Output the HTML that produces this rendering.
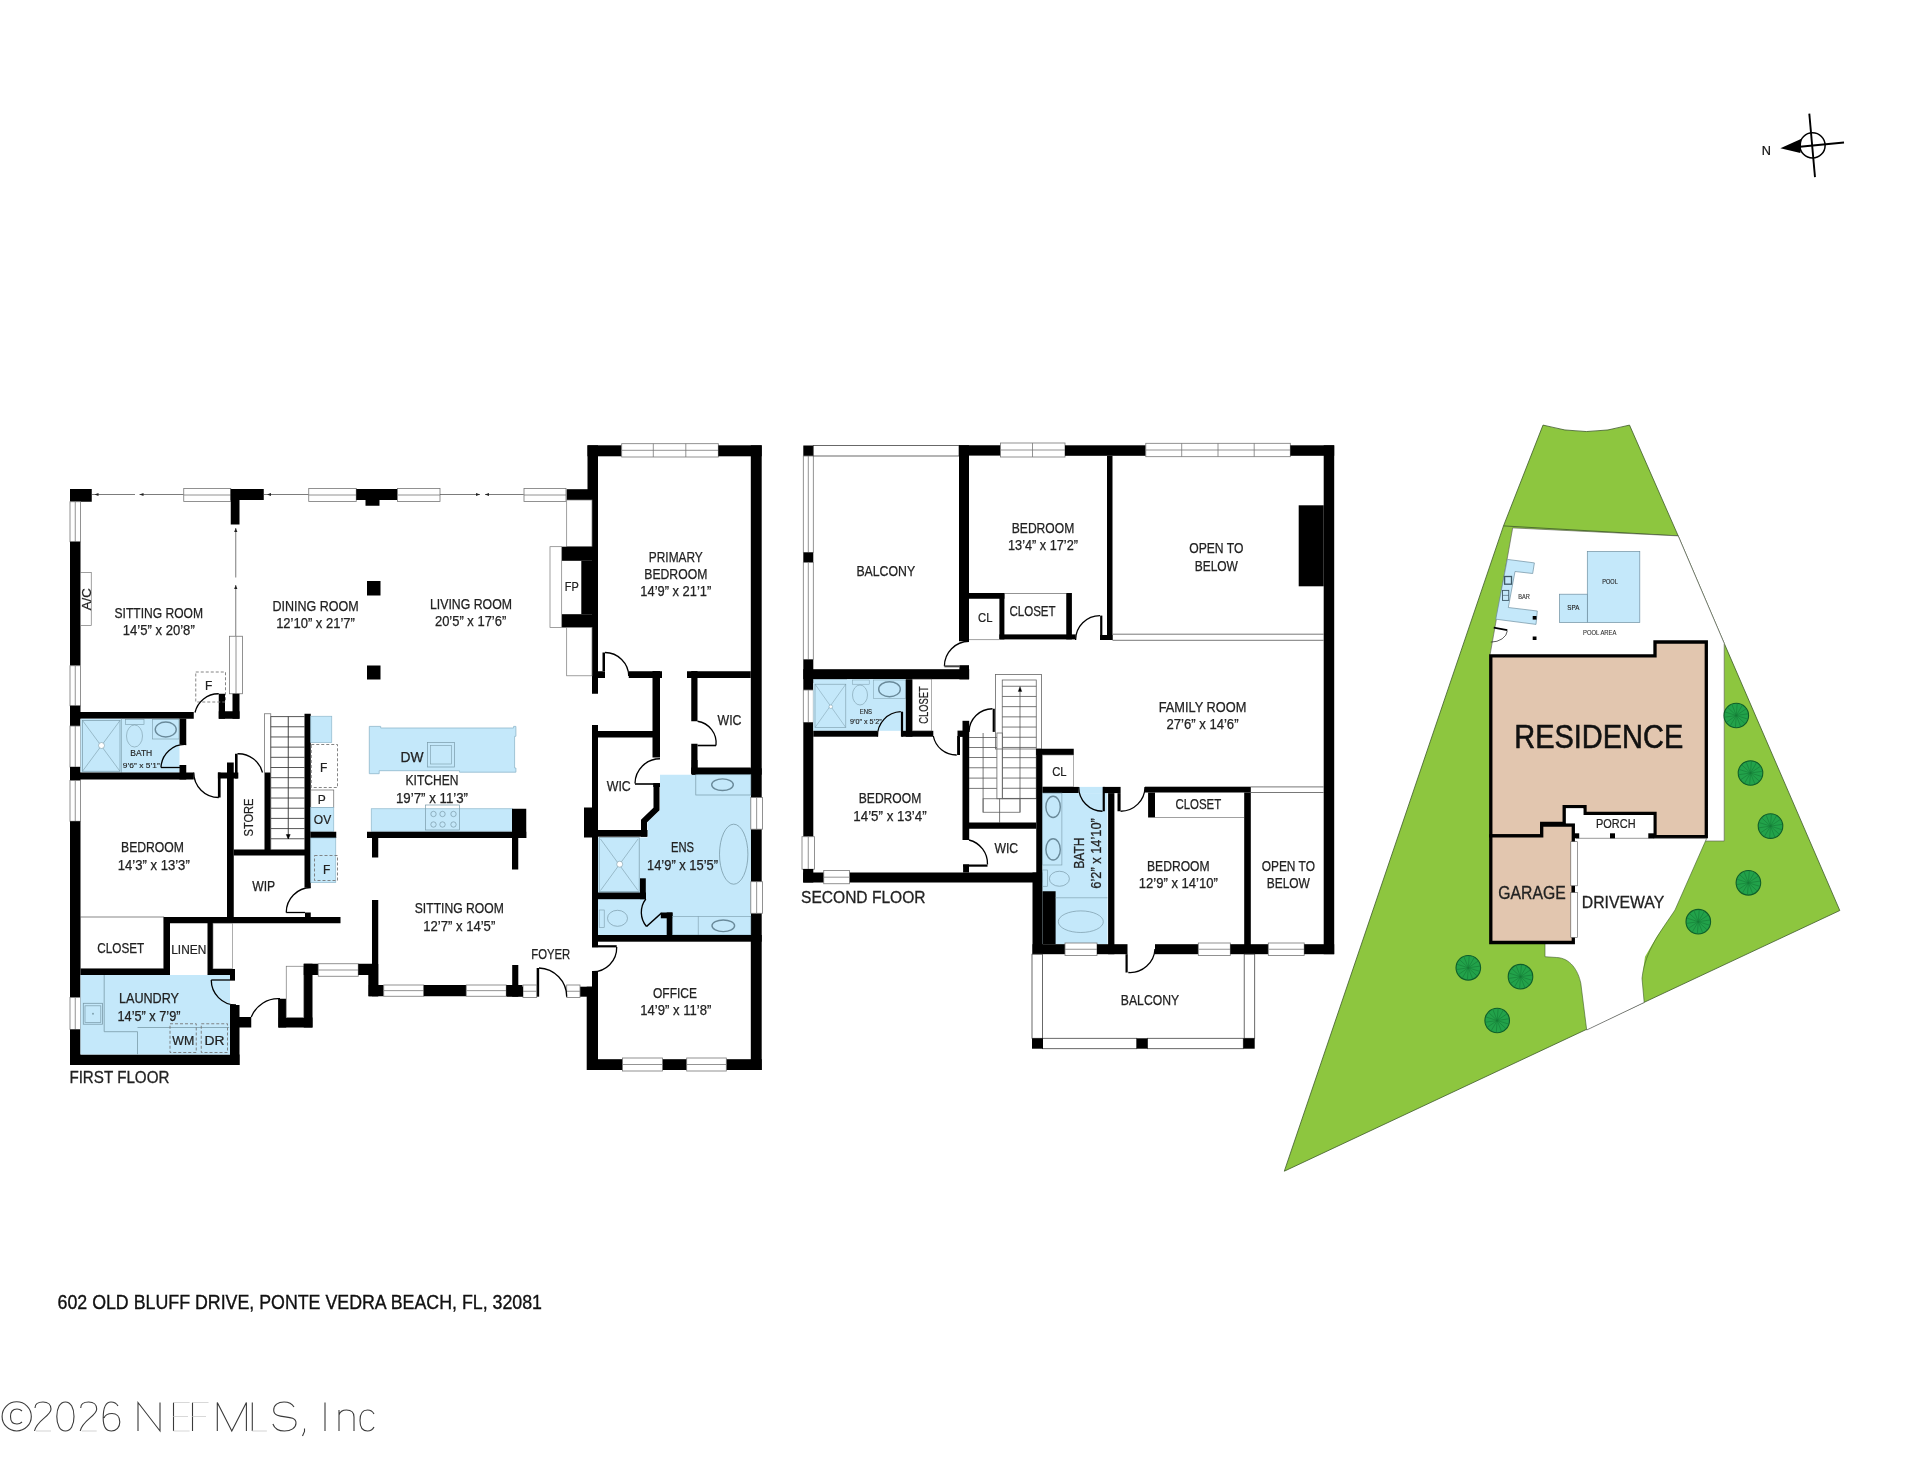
<!DOCTYPE html><html><head><meta charset="utf-8"><style>
html,body{margin:0;padding:0;background:#fff;width:1920px;height:1484px;overflow:hidden}
svg{display:block;font-family:"Liberation Sans",sans-serif;will-change:transform}
</style></head><body>
<svg width="1920" height="1484" viewBox="0 0 1920 1484">
<rect x="70" y="489" width="21.75" height="12.75" fill="#000"/>
<rect x="70" y="501.75" width="10.5" height="40.0" fill="#fff" stroke="#777" stroke-width="0.8"/>
<line x1="75.25" y1="501.75" x2="75.25" y2="541.75" stroke="#777" stroke-width="0.8"/>
<rect x="70" y="541.75" width="10.5" height="124.0" fill="#000"/>
<rect x="70" y="665.75" width="10.5" height="40.0" fill="#fff" stroke="#777" stroke-width="0.8"/>
<line x1="75.25" y1="665.75" x2="75.25" y2="705.75" stroke="#777" stroke-width="0.8"/>
<rect x="70" y="705.75" width="10.5" height="20.25" fill="#000"/>
<rect x="70" y="726" width="10.5" height="41" fill="#fff" stroke="#777" stroke-width="0.8"/>
<line x1="75.25" y1="726" x2="75.25" y2="767" stroke="#777" stroke-width="0.8"/>
<rect x="70" y="767" width="10.5" height="13.5" fill="#000"/>
<rect x="70" y="780.5" width="10.5" height="40.75" fill="#fff" stroke="#777" stroke-width="0.8"/>
<line x1="75.25" y1="780.5" x2="75.25" y2="821.25" stroke="#777" stroke-width="0.8"/>
<rect x="70" y="821.25" width="10.5" height="176.25" fill="#000"/>
<rect x="70" y="997.5" width="10.5" height="32.0" fill="#fff" stroke="#777" stroke-width="0.8"/>
<line x1="75.25" y1="997.5" x2="75.25" y2="1029.5" stroke="#777" stroke-width="0.8"/>
<rect x="70" y="1029.5" width="10.5" height="35.5" fill="#000"/>
<rect x="70" y="1054.5" width="169.5" height="10.5" fill="#000"/>
<line x1="91.75" y1="494.5" x2="135" y2="494.5" stroke="#444" stroke-width="0.7"/>
<line x1="139.5" y1="494.5" x2="183.75" y2="494.5" stroke="#444" stroke-width="0.7"/>
<rect x="183.75" y="488.5" width="47.0" height="13.0" fill="#fff" stroke="#777" stroke-width="0.8"/>
<line x1="183.75" y1="495.0" x2="230.75" y2="495.0" stroke="#777" stroke-width="0.8"/>
<rect x="230.75" y="489" width="33.0" height="11" fill="#000"/>
<rect x="230.75" y="489" width="8.75" height="35.5" fill="#000"/>
<line x1="263.75" y1="494.5" x2="308.75" y2="494.5" stroke="#444" stroke-width="0.7"/>
<rect x="308.75" y="488.5" width="47.5" height="13.0" fill="#fff" stroke="#777" stroke-width="0.8"/>
<line x1="308.75" y1="495.0" x2="356.25" y2="495.0" stroke="#777" stroke-width="0.8"/>
<rect x="356.25" y="489" width="41.25" height="11" fill="#000"/>
<rect x="365.5" y="489" width="14.0" height="16.75" fill="#000"/>
<rect x="397.5" y="488.5" width="42.5" height="13.0" fill="#fff" stroke="#777" stroke-width="0.8"/>
<line x1="397.5" y1="495.0" x2="440" y2="495.0" stroke="#777" stroke-width="0.8"/>
<line x1="440" y1="494.5" x2="480" y2="494.5" stroke="#444" stroke-width="0.7"/>
<line x1="485" y1="494.5" x2="523.75" y2="494.5" stroke="#444" stroke-width="0.7"/>
<rect x="524" y="488.5" width="42" height="13.0" fill="#fff" stroke="#777" stroke-width="0.8"/>
<line x1="524" y1="495.0" x2="566" y2="495.0" stroke="#777" stroke-width="0.8"/>
<line x1="235.75" y1="528" x2="235.75" y2="577.5" stroke="#444" stroke-width="0.7"/>
<line x1="235.75" y1="585" x2="235.75" y2="636" stroke="#444" stroke-width="0.7"/>
<rect x="229.5" y="636.25" width="13.0" height="57.5" fill="#fff" stroke="#777" stroke-width="0.8"/>
<line x1="236.0" y1="636.25" x2="236.0" y2="693.75" stroke="#777" stroke-width="0.8"/>
<rect x="232.5" y="693.75" width="7.0" height="25.0" fill="#000"/>
<rect x="218.75" y="693.75" width="6.25" height="25.0" fill="#000"/>
<rect x="218.75" y="711.25" width="20.75" height="7.5" fill="#000"/>
<rect x="195.75" y="672" width="29.75" height="30" fill="none" stroke="#777" stroke-width="0.9" stroke-dasharray="3,2"/>
<text x="208.75" y="690" font-size="12" text-anchor="middle" fill="#222" stroke="#222" stroke-width="0.21">F</text>
<path d="M195 712.5 A24 24 0 0 1 218.75 693.75" fill="none" stroke="#000" stroke-width="1.3"/>
<rect x="367" y="581" width="13.5" height="14.5" fill="#000"/>
<rect x="367" y="665.5" width="13.5" height="14.0" fill="#000"/>
<rect x="70" y="712" width="123.75" height="6.75" fill="#000"/>
<rect x="80.5" y="718.75" width="99.0" height="53.75" fill="#c4e8fa"/>
<rect x="179.5" y="718.75" width="6.75" height="25.75" fill="#000"/>
<rect x="179.5" y="765" width="6.75" height="14.5" fill="#000"/>
<rect x="82.5" y="720.5" width="37.5" height="50.75" fill="none" stroke="#7a9aa8" stroke-width="0.7"/>
<line x1="82.5" y1="720.5" x2="120" y2="771.25" stroke="#7a9aa8" stroke-width="0.6"/>
<line x1="120" y1="720.5" x2="82.5" y2="771.25" stroke="#7a9aa8" stroke-width="0.6"/>
<circle cx="101.5" cy="745.5" r="3" fill="#fff" stroke="#7a9aa8" stroke-width="0.6"/>
<line x1="121.5" y1="718.75" x2="121.5" y2="772.5" stroke="#7a9aa8" stroke-width="0.6"/>
<rect x="125.5" y="719.5" width="18.5" height="5.0" fill="none" stroke="#7a9aa8" stroke-width="0.6"/>
<ellipse cx="134.5" cy="736" rx="8" ry="11" fill="none" stroke="#7a9aa8" stroke-width="0.6"/>
<rect x="152.5" y="719.5" width="26.5" height="19.5" fill="none" stroke="#7a9aa8" stroke-width="0.6"/>
<ellipse cx="165.75" cy="729.5" rx="10.5" ry="7.5" fill="none" stroke="#6a8a9a" stroke-width="1.4"/>
<text x="141.25" y="756" font-size="8.5" text-anchor="middle" fill="#222" stroke="#222" stroke-width="0.15" textLength="22" lengthAdjust="spacingAndGlyphs">BATH</text>
<text x="141.25" y="767.5" font-size="8" text-anchor="middle" fill="#222" stroke="#222" stroke-width="0.14" textLength="37" lengthAdjust="spacingAndGlyphs">9’6” x 5’1”</text>
<path d="M161 767.5 A24 24 0 0 1 186.25 744.5" fill="none" stroke="#000" stroke-width="1.3"/>
<line x1="161" y1="767.5" x2="186" y2="767.5" stroke="#000" stroke-width="1.3"/>
<rect x="70" y="772.5" width="123.75" height="7.0" fill="#000"/>
<path d="M193.75 772.5 A25 25 0 0 0 218.75 797.5" fill="none" stroke="#000" stroke-width="1.3"/>
<rect x="217.9" y="772.5" width="20.4" height="6.0" fill="#000"/>
<rect x="217.9" y="772.5" width="2.7" height="25.0" fill="#000"/>
<line x1="236.3" y1="753.75" x2="236.3" y2="778.5" stroke="#000" stroke-width="2.6"/>
<path d="M237.5 753.75 A25 25 0 0 1 262.5 772.5" fill="none" stroke="#000" stroke-width="1.3"/>
<rect x="227" y="762.5" width="6.75" height="160.5" fill="#000"/>
<text x="152.5" y="852" font-size="14" text-anchor="middle" fill="#222" stroke="#222" stroke-width="0.25" textLength="63" lengthAdjust="spacingAndGlyphs">BEDROOM</text>
<text x="153.75" y="869.5" font-size="14" text-anchor="middle" fill="#222" stroke="#222" stroke-width="0.25" textLength="72" lengthAdjust="spacingAndGlyphs">14’3” x 13’3”</text>
<rect x="264.5" y="772.5" width="6.25" height="77.5" fill="#000"/>
<text x="252.5" y="817.5" font-size="13" text-anchor="middle" fill="#222" stroke="#222" stroke-width="0.23" textLength="38" lengthAdjust="spacingAndGlyphs" transform="rotate(-90 252.5 817.5)">STORE</text>
<rect x="233.75" y="849.5" width="71.25" height="6.0" fill="#000"/>
<rect x="264.5" y="713.75" width="6.25" height="58.75" fill="#fff" stroke="#777" stroke-width="0.8"/>
<line x1="270.75" y1="716.6" x2="304.5" y2="716.6" stroke="#444" stroke-width="0.9"/>
<line x1="270.75" y1="726.78" x2="304.5" y2="726.78" stroke="#444" stroke-width="0.9"/>
<line x1="270.75" y1="736.96" x2="304.5" y2="736.96" stroke="#444" stroke-width="0.9"/>
<line x1="270.75" y1="747.14" x2="304.5" y2="747.14" stroke="#444" stroke-width="0.9"/>
<line x1="270.75" y1="757.32" x2="304.5" y2="757.32" stroke="#444" stroke-width="0.9"/>
<line x1="270.75" y1="767.5" x2="304.5" y2="767.5" stroke="#444" stroke-width="0.9"/>
<line x1="270.75" y1="777.6800000000001" x2="304.5" y2="777.6800000000001" stroke="#444" stroke-width="0.9"/>
<line x1="270.75" y1="787.86" x2="304.5" y2="787.86" stroke="#444" stroke-width="0.9"/>
<line x1="270.75" y1="798.04" x2="304.5" y2="798.04" stroke="#444" stroke-width="0.9"/>
<line x1="270.75" y1="808.22" x2="304.5" y2="808.22" stroke="#444" stroke-width="0.9"/>
<line x1="270.75" y1="818.4" x2="304.5" y2="818.4" stroke="#444" stroke-width="0.9"/>
<line x1="270.75" y1="828.58" x2="304.5" y2="828.58" stroke="#444" stroke-width="0.9"/>
<line x1="270.75" y1="838.76" x2="304.5" y2="838.76" stroke="#444" stroke-width="0.9"/>
<line x1="270.75" y1="716.5" x2="270.75" y2="849.5" stroke="#555" stroke-width="0.7"/>
<line x1="288.25" y1="716.6" x2="288.25" y2="838.7" stroke="#333" stroke-width="0.9"/>
<path d="M286.3 834.5 L288.25 839 L290.2 834.5 Z" fill="#000" stroke="#000" stroke-width="0.5"/>
<rect x="304.5" y="713.75" width="6.25" height="173.75" fill="#000"/>
<rect x="310.75" y="716.25" width="21.0" height="26.25" fill="#c4e8fa" stroke="#8fb8cc" stroke-width="0.7"/>
<rect x="311.25" y="744.5" width="26.25" height="43.0" fill="none" stroke="#777" stroke-width="0.9" stroke-dasharray="3,2"/>
<text x="323.75" y="771.5" font-size="12" text-anchor="middle" fill="#222" stroke="#222" stroke-width="0.21">F</text>
<rect x="310.75" y="790" width="23.0" height="17.5" fill="none" stroke="#666" stroke-width="0.7"/>
<text x="321.75" y="803.5" font-size="12" text-anchor="middle" fill="#222" stroke="#222" stroke-width="0.21">P</text>
<rect x="310.75" y="807.5" width="23.0" height="23.75" fill="#c4e8fa" stroke="#8fb8cc" stroke-width="0.7"/>
<text x="322.5" y="823.5" font-size="12" text-anchor="middle" fill="#222" stroke="#222" stroke-width="0.21">OV</text>
<rect x="310.75" y="831.75" width="25.5" height="6.25" fill="#000"/>
<rect x="310.75" y="838" width="25.0" height="44.5" fill="#c4e8fa" stroke="#8fb8cc" stroke-width="0.7"/>
<rect x="314.5" y="855.5" width="23.0" height="25.0" fill="none" stroke="#777" stroke-width="0.9" stroke-dasharray="3,2"/>
<text x="326.75" y="873.5" font-size="12" text-anchor="middle" fill="#222" stroke="#222" stroke-width="0.21">F</text>
<text x="263.75" y="891" font-size="14" text-anchor="middle" fill="#222" stroke="#222" stroke-width="0.25" textLength="23" lengthAdjust="spacingAndGlyphs">WIP</text>
<path d="M286.25 912.5 A25 25 0 0 1 310.75 887.5" fill="none" stroke="#000" stroke-width="1.3"/>
<line x1="286.25" y1="912.5" x2="305" y2="912.5" stroke="#000" stroke-width="1.3"/>
<rect x="305" y="912.5" width="5.75" height="5.0" fill="#000"/>
<rect x="163.75" y="917" width="176.75" height="6.25" fill="#000"/>
<rect x="80.5" y="917" width="83.25" height="51.75" fill="#fff" stroke="#555" stroke-width="0.7"/>
<text x="120.75" y="953" font-size="14" text-anchor="middle" fill="#222" stroke="#222" stroke-width="0.25" textLength="47" lengthAdjust="spacingAndGlyphs">CLOSET</text>
<rect x="163.75" y="917" width="6.25" height="58" fill="#000"/>
<text x="188.75" y="954" font-size="13" text-anchor="middle" fill="#222" stroke="#222" stroke-width="0.23" textLength="35" lengthAdjust="spacingAndGlyphs">LINEN</text>
<rect x="207.5" y="923" width="5.5" height="52" fill="#000"/>
<rect x="213" y="923.25" width="19.5" height="45.5" fill="#fff" stroke="#777" stroke-width="0.6"/>
<rect x="80.5" y="968.75" width="89.5" height="6.25" fill="#000"/>
<rect x="80.5" y="975" width="149.5" height="79.5" fill="#c4e8fa"/>
<path d="M104.2 975 L104.2 1031.7 L137.5 1031.7 L137.5 1054.5 M137.5 1027.5 L229.2 1027.5" fill="none" stroke="#7a9aa8" stroke-width="0.8"/>
<rect x="83.3" y="1003.3" width="19.2" height="20.9" fill="none" stroke="#7a9aa8" stroke-width="0.8"/>
<rect x="85" y="1005.8" width="15.8" height="16.7" fill="none" stroke="#7a9aa8" stroke-width="0.7"/>
<circle cx="93" cy="1013.75" r="0.9" fill="#7a9aa8"/>
<rect x="170" y="1023.75" width="26.25" height="28.75" fill="none" stroke="#777" stroke-width="0.9" stroke-dasharray="3,2"/>
<rect x="201.25" y="1023.75" width="26.25" height="28.75" fill="none" stroke="#777" stroke-width="0.9" stroke-dasharray="3,2"/>
<text x="183.25" y="1044.5" font-size="12" text-anchor="middle" fill="#222" stroke="#222" stroke-width="0.21" textLength="22" lengthAdjust="spacingAndGlyphs">WM</text>
<text x="214.5" y="1044.5" font-size="12" text-anchor="middle" fill="#222" stroke="#222" stroke-width="0.21" textLength="20" lengthAdjust="spacingAndGlyphs">DR</text>
<text x="149" y="1003" font-size="14" text-anchor="middle" fill="#222" stroke="#222" stroke-width="0.25" textLength="60" lengthAdjust="spacingAndGlyphs">LAUNDRY</text>
<text x="149" y="1021" font-size="14" text-anchor="middle" fill="#222" stroke="#222" stroke-width="0.25" textLength="63" lengthAdjust="spacingAndGlyphs">14’5” x 7’9”</text>
<rect x="210" y="969" width="25" height="6" fill="#000"/>
<rect x="230" y="969" width="5" height="11" fill="#000"/>
<path d="M211.25 980 A25 25 0 0 0 236 1005" fill="none" stroke="#000" stroke-width="1.3"/>
<line x1="211.25" y1="980" x2="235" y2="980" stroke="#000" stroke-width="1.3"/>
<rect x="230" y="1005" width="9.5" height="60" fill="#000"/>
<rect x="230" y="1017" width="21.25" height="10.5" fill="#000"/>
<path d="M251.25 1017 A29 29 0 0 1 280 998.75" fill="none" stroke="#000" stroke-width="1.3"/>
<line x1="278.75" y1="998.75" x2="278.75" y2="1027.5" stroke="#000" stroke-width="1.2"/>
<rect x="278.75" y="998.75" width="7.5" height="28.75" fill="#000"/>
<rect x="278.75" y="1017.5" width="33.75" height="10.0" fill="#000"/>
<rect x="303.75" y="963.75" width="8.75" height="63.75" fill="#000"/>
<rect x="286.25" y="966.25" width="17.5" height="51.25" fill="#fff" stroke="#777" stroke-width="0.7"/>
<rect x="303.75" y="963.75" width="14.5" height="11.25" fill="#000"/>
<rect x="318.25" y="963.75" width="40.0" height="12.5" fill="#fff" stroke="#777" stroke-width="0.8"/>
<line x1="318.25" y1="970.0" x2="358.25" y2="970.0" stroke="#777" stroke-width="0.8"/>
<rect x="358.25" y="963.75" width="13.75" height="11.25" fill="#000"/>
<path d="M369.3 726.4 L380.7 726.4 L380.7 728 L513.6 728 L513.6 726.4 L515.9 726.4 L515.9 736.3 L514.6 736.3 L514.6 768 L515.9 768 L515.9 772.2 L459.5 772.2 L459.5 770.7 L379.2 770.7 L379.2 773.7 L369.3 773.7 Z" fill="#c4e8fa" stroke="#8fb8cc" stroke-width="0.8"/>
<rect x="427.5" y="742.5" width="27.0" height="24.5" fill="none" stroke="#7a9aa8" stroke-width="0.7"/>
<rect x="430.5" y="745.5" width="21.0" height="18.5" fill="none" stroke="#7a9aa8" stroke-width="0.6"/>
<text x="412" y="762" font-size="14" text-anchor="middle" fill="#222" stroke="#222" stroke-width="0.25" textLength="23" lengthAdjust="spacingAndGlyphs">DW</text>
<text x="432" y="784.5" font-size="14" text-anchor="middle" fill="#222" stroke="#222" stroke-width="0.25" textLength="53" lengthAdjust="spacingAndGlyphs">KITCHEN</text>
<text x="432" y="802.5" font-size="14" text-anchor="middle" fill="#222" stroke="#222" stroke-width="0.25" textLength="72" lengthAdjust="spacingAndGlyphs">19’7” x 11’3”</text>
<rect x="371.25" y="808.75" width="141.25" height="22.5" fill="#c4e8fa" stroke="#8fb8cc" stroke-width="0.7"/>
<rect x="425.5" y="805" width="34.0" height="25" fill="none" stroke="#7a9aa8" stroke-width="0.7"/>
<circle cx="433.5" cy="814" r="2.7" fill="none" stroke="#7a9aa8" stroke-width="0.7"/>
<circle cx="433.5" cy="824.5" r="2.7" fill="none" stroke="#7a9aa8" stroke-width="0.7"/>
<circle cx="442.5" cy="814" r="2.7" fill="none" stroke="#7a9aa8" stroke-width="0.7"/>
<circle cx="442.5" cy="824.5" r="2.7" fill="none" stroke="#7a9aa8" stroke-width="0.7"/>
<circle cx="453.5" cy="814" r="2.7" fill="none" stroke="#7a9aa8" stroke-width="0.7"/>
<circle cx="453.5" cy="824.5" r="2.7" fill="none" stroke="#7a9aa8" stroke-width="0.7"/>
<rect x="367" y="831.75" width="159.25" height="6.25" fill="#000"/>
<rect x="512" y="808.75" width="14.25" height="29.25" fill="#000"/>
<rect x="372" y="838" width="6.25" height="19.5" fill="#000"/>
<rect x="512" y="838" width="6.25" height="31.5" fill="#000"/>
<text x="459.25" y="913" font-size="14" text-anchor="middle" fill="#222" stroke="#222" stroke-width="0.25" textLength="89" lengthAdjust="spacingAndGlyphs">SITTING ROOM</text>
<text x="459.25" y="931" font-size="14" text-anchor="middle" fill="#222" stroke="#222" stroke-width="0.25" textLength="72" lengthAdjust="spacingAndGlyphs">12’7” x 14’5”</text>
<rect x="372" y="900" width="6.25" height="96.25" fill="#000"/>
<rect x="368.3" y="964" width="9.95" height="32.25" fill="#000"/>
<rect x="368.75" y="985" width="15.0" height="11.25" fill="#000"/>
<rect x="383.75" y="985" width="40.0" height="11.25" fill="#fff" stroke="#777" stroke-width="0.8"/>
<line x1="383.75" y1="990.625" x2="423.75" y2="990.625" stroke="#777" stroke-width="0.8"/>
<rect x="423.75" y="985" width="42.5" height="11.25" fill="#000"/>
<rect x="466.25" y="985" width="40.0" height="11.25" fill="#fff" stroke="#777" stroke-width="0.8"/>
<line x1="466.25" y1="990.625" x2="506.25" y2="990.625" stroke="#777" stroke-width="0.8"/>
<rect x="506.25" y="985" width="16.25" height="11.25" fill="#000"/>
<rect x="587.5" y="445.3" width="34.2" height="11.0" fill="#000"/>
<rect x="621.7" y="443.7" width="96.6" height="13.3" fill="#fff" stroke="#777" stroke-width="0.8"/>
<line x1="621.7" y1="450.3" x2="718.3" y2="450.3" stroke="#777" stroke-width="0.8"/>
<line x1="653.3" y1="443.7" x2="653.3" y2="457" stroke="#777" stroke-width="0.8"/>
<line x1="685.8" y1="443.7" x2="685.8" y2="457" stroke="#777" stroke-width="0.8"/>
<rect x="718.3" y="445.3" width="43.4" height="11.0" fill="#000"/>
<rect x="750.8" y="445.3" width="10.9" height="624.7" fill="#000"/>
<rect x="587.5" y="445.3" width="10.5" height="44.7" fill="#000"/>
<rect x="592" y="489" width="6" height="204.75" fill="#000"/>
<rect x="566.7" y="489.2" width="25.3" height="10.8" fill="#000"/>
<rect x="566.7" y="500" width="25.3" height="46.7" fill="#fff" stroke="#777" stroke-width="0.7"/>
<rect x="561.7" y="546.7" width="36.3" height="14.1" fill="#000"/>
<rect x="581.3" y="560.8" width="16.7" height="53.4" fill="#000"/>
<rect x="561.7" y="614.2" width="36.3" height="13.3" fill="#000"/>
<rect x="550" y="546.7" width="11.7" height="80.8" fill="#fff" stroke="#777" stroke-width="0.7"/>
<text x="571.7" y="590.5" font-size="13" text-anchor="middle" fill="#222" stroke="#222" stroke-width="0.23" textLength="14" lengthAdjust="spacingAndGlyphs">FP</text>
<rect x="566.7" y="627.5" width="25.3" height="48.3" fill="#fff" stroke="#777" stroke-width="0.7"/>
<text x="675.8" y="561.5" font-size="14" text-anchor="middle" fill="#222" stroke="#222" stroke-width="0.25" textLength="54" lengthAdjust="spacingAndGlyphs">PRIMARY</text>
<text x="675.8" y="579" font-size="14" text-anchor="middle" fill="#222" stroke="#222" stroke-width="0.25" textLength="63" lengthAdjust="spacingAndGlyphs">BEDROOM</text>
<text x="675.8" y="595.8" font-size="14" text-anchor="middle" fill="#222" stroke="#222" stroke-width="0.25" textLength="71" lengthAdjust="spacingAndGlyphs">14’9” x 21’1”</text>
<line x1="603.75" y1="652.5" x2="603.75" y2="671" stroke="#000" stroke-width="2.5"/>
<path d="M605 652.5 A24 24 0 0 1 628.75 676" fill="none" stroke="#000" stroke-width="1.3"/>
<rect x="598" y="671.25" width="7" height="6.75" fill="#000"/>
<rect x="628.75" y="671.25" width="33.25" height="6.75" fill="#000"/>
<rect x="652.5" y="671" width="7.5" height="86.5" fill="#000"/>
<rect x="687" y="671.25" width="63.75" height="6.75" fill="#000"/>
<rect x="691.25" y="671" width="6.25" height="50.25" fill="#000"/>
<path d="M716 745.5 A22 22 0 0 0 697.5 721.25" fill="none" stroke="#000" stroke-width="1.3"/>
<line x1="697.5" y1="745.5" x2="716" y2="745.5" stroke="#000" stroke-width="1.6"/>
<rect x="691.25" y="743.75" width="6.25" height="30.0" fill="#000"/>
<rect x="691.25" y="767.5" width="59.5" height="6.25" fill="#000"/>
<text x="729.5" y="725" font-size="14" text-anchor="middle" fill="#222" stroke="#222" stroke-width="0.25" textLength="24" lengthAdjust="spacingAndGlyphs">WIC</text>
<rect x="592" y="725" width="6" height="222.5" fill="#000"/>
<rect x="598" y="731" width="57" height="6.5" fill="#000"/>
<path d="M635 783.5 A25 25 0 0 1 660 758.75" fill="none" stroke="#000" stroke-width="1.3"/>
<line x1="635" y1="784" x2="660" y2="784" stroke="#000" stroke-width="1.6"/>
<text x="618.75" y="791" font-size="14" text-anchor="middle" fill="#222" stroke="#222" stroke-width="0.25" textLength="24" lengthAdjust="spacingAndGlyphs">WIC</text>
<path d="M660 774.7 L750.8 774.7 L750.8 935 L598 935 L598 837.5 L647.5 837.5 L647.5 821.7 L660 810 Z" fill="#c4e8fa" stroke="none" stroke-width="0"/>
<rect x="584" y="807.5" width="14" height="30.0" fill="#000"/>
<rect x="598" y="830" width="49.5" height="6.7" fill="#000"/>
<path d="M656.5 783.3 L656.5 809 L644 821 L644 836.7" fill="none" stroke="#000" stroke-width="6"/>
<rect x="653.3" y="783.3" width="6.7" height="3.7" fill="#000"/>
<rect x="691.7" y="768.3" width="70.0" height="6.4" fill="#000"/>
<rect x="691.7" y="760" width="5.8" height="14.7" fill="#000"/>
<rect x="695.8" y="774.7" width="55.0" height="20.3" fill="none" stroke="#7a9aa8" stroke-width="0.7"/>
<ellipse cx="722.5" cy="784.7" rx="10.8" ry="5.8" fill="none" stroke="#6a8a9a" stroke-width="1.4"/>
<rect x="750.8" y="797.5" width="11.7" height="31.7" fill="#fff" stroke="#777" stroke-width="0.8"/>
<line x1="756.65" y1="797.5" x2="756.65" y2="829.2" stroke="#777" stroke-width="0.8"/>
<rect x="750.8" y="881.7" width="11.7" height="31.6" fill="#fff" stroke="#777" stroke-width="0.8"/>
<line x1="756.65" y1="881.7" x2="756.65" y2="913.3" stroke="#777" stroke-width="0.8"/>
<ellipse cx="733.7" cy="854.2" rx="14.2" ry="30" fill="none" stroke="#7a9aa8" stroke-width="0.8"/>
<rect x="599.2" y="837.5" width="40.0" height="54.2" fill="none" stroke="#7a9aa8" stroke-width="0.7"/>
<line x1="600.5" y1="839" x2="638" y2="890.5" stroke="#7a9aa8" stroke-width="0.6"/>
<line x1="638" y1="839" x2="600.5" y2="890.5" stroke="#7a9aa8" stroke-width="0.6"/>
<circle cx="619.7" cy="864.2" r="3" fill="#fff" stroke="#7a9aa8" stroke-width="0.6"/>
<rect x="598" y="892.5" width="48" height="6.7" fill="#000"/>
<rect x="640" y="878.3" width="5.8" height="20.9" fill="#000"/>
<path d="M645.8 899 A22 22 0 0 0 646.5 926.5" fill="none" stroke="#000" stroke-width="1.3"/>
<line x1="646.5" y1="926.5" x2="661.5" y2="913" stroke="#000" stroke-width="1.6"/>
<rect x="660.8" y="912.5" width="11.7" height="5.8" fill="#000"/>
<rect x="666.7" y="912.5" width="5.8" height="22.5" fill="#000"/>
<rect x="599.2" y="910" width="5.0" height="17.5" fill="none" stroke="#7a9aa8" stroke-width="0.6"/>
<ellipse cx="617.5" cy="918.3" rx="10" ry="8" fill="none" stroke="#7a9aa8" stroke-width="0.7"/>
<rect x="672.5" y="916.3" width="78.3" height="18.7" fill="none" stroke="#7a9aa8" stroke-width="0.6"/>
<line x1="698.3" y1="916.3" x2="698.3" y2="935" stroke="#7a9aa8" stroke-width="0.6"/>
<ellipse cx="723.3" cy="925.8" rx="11.3" ry="5.8" fill="none" stroke="#6a8a9a" stroke-width="1.4"/>
<text x="682.5" y="852" font-size="14" text-anchor="middle" fill="#222" stroke="#222" stroke-width="0.25" textLength="23" lengthAdjust="spacingAndGlyphs">ENS</text>
<text x="682.5" y="870" font-size="14" text-anchor="middle" fill="#222" stroke="#222" stroke-width="0.25" textLength="71" lengthAdjust="spacingAndGlyphs">14’9” x 15’5”</text>
<rect x="592" y="935" width="169.7" height="6.7" fill="#000"/>
<line x1="598" y1="946.3" x2="616.7" y2="946.3" stroke="#000" stroke-width="2.2"/>
<path d="M616.7 947 A24 24 0 0 1 592 971.7" fill="none" stroke="#000" stroke-width="1.3"/>
<rect x="592" y="971.7" width="6" height="98.3" fill="#000"/>
<rect x="586.7" y="986.7" width="11.3" height="83.3" fill="#000"/>
<rect x="588" y="1059.2" width="173.7" height="10.8" fill="#000"/>
<rect x="622.5" y="1058" width="40.0" height="13" fill="#fff" stroke="#777" stroke-width="0.8"/>
<line x1="622.5" y1="1064.5" x2="662.5" y2="1064.5" stroke="#777" stroke-width="0.8"/>
<rect x="686.7" y="1058" width="39.6" height="13" fill="#fff" stroke="#777" stroke-width="0.8"/>
<line x1="686.7" y1="1064.5" x2="726.3" y2="1064.5" stroke="#777" stroke-width="0.8"/>
<text x="675" y="997.5" font-size="14" text-anchor="middle" fill="#222" stroke="#222" stroke-width="0.25" textLength="44" lengthAdjust="spacingAndGlyphs">OFFICE</text>
<text x="675.8" y="1015" font-size="14" text-anchor="middle" fill="#222" stroke="#222" stroke-width="0.25" textLength="71" lengthAdjust="spacingAndGlyphs">14’9” x 11’8”</text>
<rect x="580" y="986.7" width="12" height="10.0" fill="#000"/>
<rect x="566.7" y="985" width="13.3" height="12.5" fill="#fff" stroke="#777" stroke-width="0.8"/>
<line x1="566.7" y1="991.25" x2="580" y2="991.25" stroke="#777" stroke-width="0.8"/>
<line x1="537.9" y1="968" x2="537.9" y2="996.7" stroke="#000" stroke-width="2.5"/>
<path d="M539 968 A28.7 28.7 0 0 1 566.7 996.7" fill="none" stroke="#000" stroke-width="1.3"/>
<rect x="523" y="985" width="13.7" height="12.5" fill="#fff" stroke="#777" stroke-width="0.8"/>
<line x1="523" y1="991.25" x2="536.7" y2="991.25" stroke="#777" stroke-width="0.8"/>
<rect x="506.7" y="986.7" width="16.3" height="10.0" fill="#000"/>
<rect x="512.2" y="965" width="6.1" height="31.7" fill="#000"/>
<text x="550.8" y="959" font-size="14" text-anchor="middle" fill="#222" stroke="#222" stroke-width="0.25" textLength="39" lengthAdjust="spacingAndGlyphs">FOYER</text>
<path d="M94.5 494.5 L98.5 492.9 L98.5 496.1 Z" fill="#222"/>
<path d="M139.5 494.5 L143.5 492.9 L143.5 496.1 Z" fill="#222"/>
<path d="M267 494.5 L271 492.9 L271 496.1 Z" fill="#222"/>
<path d="M480 494.5 L476 492.9 L476 496.1 Z" fill="#222"/>
<path d="M485 494.5 L489 492.9 L489 496.1 Z" fill="#222"/>
<path d="M235.75 528 L234.15 532 L237.35 532 Z" fill="#222"/>
<path d="M235.75 585 L234.15 589 L237.35 589 Z" fill="#222"/>
<rect x="80.5" y="572.5" width="10.75" height="53.0" fill="#fff" stroke="#777" stroke-width="0.7"/>
<text x="90.5" y="599.25" font-size="13" text-anchor="middle" fill="#222" stroke="#222" stroke-width="0.23" textLength="22" lengthAdjust="spacingAndGlyphs" transform="rotate(-90 90.5 599.25)">A/C</text>
<text x="158.75" y="618" font-size="14" text-anchor="middle" fill="#222" stroke="#222" stroke-width="0.25" textLength="88.5" lengthAdjust="spacingAndGlyphs">SITTING ROOM</text>
<text x="158.75" y="635" font-size="14" text-anchor="middle" fill="#222" stroke="#222" stroke-width="0.25" textLength="72" lengthAdjust="spacingAndGlyphs">14’5” x 20’8”</text>
<text x="315.5" y="611.25" font-size="14" text-anchor="middle" fill="#222" stroke="#222" stroke-width="0.25" textLength="86.25" lengthAdjust="spacingAndGlyphs">DINING ROOM</text>
<text x="315.5" y="628" font-size="14" text-anchor="middle" fill="#222" stroke="#222" stroke-width="0.25" textLength="78.75" lengthAdjust="spacingAndGlyphs">12’10” x 21’7”</text>
<text x="471" y="609" font-size="14" text-anchor="middle" fill="#222" stroke="#222" stroke-width="0.25" textLength="82" lengthAdjust="spacingAndGlyphs">LIVING ROOM</text>
<text x="470.6" y="626.25" font-size="14" text-anchor="middle" fill="#222" stroke="#222" stroke-width="0.25" textLength="71.25" lengthAdjust="spacingAndGlyphs">20’5” x 17’6”</text>
<rect x="803.3" y="445.5" width="10.0" height="10.5" fill="#000"/>
<rect x="803.3" y="456" width="10.0" height="96.5" fill="#fff" stroke="#777" stroke-width="0.8"/>
<line x1="808.3" y1="456" x2="808.3" y2="552.5" stroke="#777" stroke-width="0.8"/>
<rect x="803.3" y="552.5" width="10.0" height="10.0" fill="#000"/>
<rect x="803.3" y="562.5" width="10.0" height="97.1" fill="#fff" stroke="#777" stroke-width="0.8"/>
<line x1="808.3" y1="562.5" x2="808.3" y2="659.6" stroke="#777" stroke-width="0.8"/>
<rect x="803.3" y="659.6" width="10.0" height="30.4" fill="#000"/>
<rect x="803.3" y="690" width="10.0" height="32.5" fill="#fff" stroke="#777" stroke-width="0.8"/>
<line x1="808.3" y1="690" x2="808.3" y2="722.5" stroke="#777" stroke-width="0.8"/>
<rect x="803.3" y="722.5" width="10.0" height="114.2" fill="#000"/>
<rect x="802" y="836.7" width="12.5" height="32.5" fill="#fff" stroke="#777" stroke-width="0.8"/>
<line x1="808.25" y1="836.7" x2="808.25" y2="869.2" stroke="#777" stroke-width="0.8"/>
<rect x="803.1" y="869" width="10.2" height="13.5" fill="#000"/>
<rect x="813.3" y="445.5" width="145.7" height="10.5" fill="#fff" stroke="#444" stroke-width="0.8"/>
<rect x="959" y="445.25" width="10" height="196.0" fill="#000"/>
<rect x="959" y="445.25" width="41.6" height="10.35" fill="#000"/>
<rect x="1000.6" y="443" width="64.4" height="14" fill="#fff" stroke="#777" stroke-width="0.8"/>
<line x1="1000.6" y1="450.0" x2="1065" y2="450.0" stroke="#777" stroke-width="0.8"/>
<line x1="1032.5" y1="443" x2="1032.5" y2="457" stroke="#777" stroke-width="0.8"/>
<rect x="1065" y="445.3" width="80.8" height="10.5" fill="#000"/>
<rect x="1145.8" y="443.3" width="144.5" height="13.4" fill="#fff" stroke="#777" stroke-width="0.8"/>
<line x1="1145.8" y1="450.0" x2="1290.3" y2="450.0" stroke="#777" stroke-width="0.8"/>
<line x1="1181.7" y1="443.3" x2="1181.7" y2="456.7" stroke="#777" stroke-width="0.8"/>
<line x1="1218" y1="443.3" x2="1218" y2="456.7" stroke="#777" stroke-width="0.8"/>
<line x1="1254.2" y1="443.3" x2="1254.2" y2="456.7" stroke="#777" stroke-width="0.8"/>
<rect x="1290.3" y="445.3" width="43.9" height="10.5" fill="#000"/>
<rect x="1323.7" y="445.3" width="10.5" height="508.9" fill="#000"/>
<rect x="1298.7" y="505.3" width="25.0" height="81.0" fill="#000"/>
<rect x="1107" y="455.8" width="5.5" height="184.2" fill="#000"/>
<line x1="1112.5" y1="634.2" x2="1323.7" y2="634.2" stroke="#555" stroke-width="0.8"/>
<line x1="1112.5" y1="640.3" x2="1323.7" y2="640.3" stroke="#555" stroke-width="0.8"/>
<text x="1043" y="532.75" font-size="14" text-anchor="middle" fill="#222" stroke="#222" stroke-width="0.25" textLength="62.5" lengthAdjust="spacingAndGlyphs">BEDROOM</text>
<text x="1043" y="550" font-size="14" text-anchor="middle" fill="#222" stroke="#222" stroke-width="0.25" textLength="70" lengthAdjust="spacingAndGlyphs">13’4” x 17’2”</text>
<text x="1216.3" y="553" font-size="14" text-anchor="middle" fill="#222" stroke="#222" stroke-width="0.25" textLength="54.2" lengthAdjust="spacingAndGlyphs">OPEN TO</text>
<text x="1216.3" y="570.8" font-size="14" text-anchor="middle" fill="#222" stroke="#222" stroke-width="0.25" textLength="43.3" lengthAdjust="spacingAndGlyphs">BELOW</text>
<text x="885.75" y="575.5" font-size="14" text-anchor="middle" fill="#222" stroke="#222" stroke-width="0.25" textLength="58.75" lengthAdjust="spacingAndGlyphs">BALCONY</text>
<rect x="969" y="593" width="35.4" height="5.75" fill="#000"/>
<line x1="1004.4" y1="593.5" x2="1066.25" y2="593.5" stroke="#777" stroke-width="0.8"/>
<rect x="999.4" y="593" width="5.0" height="46.4" fill="#000"/>
<rect x="1066.25" y="593" width="5.65" height="46.4" fill="#000"/>
<rect x="999.4" y="634.4" width="76.2" height="5.0" fill="#000"/>
<line x1="969" y1="639.6" x2="999.4" y2="639.6" stroke="#777" stroke-width="0.7"/>
<text x="985.25" y="622.25" font-size="13" text-anchor="middle" fill="#222" stroke="#222" stroke-width="0.23" textLength="14.4" lengthAdjust="spacingAndGlyphs">CL</text>
<text x="1032.5" y="615.6" font-size="14" text-anchor="middle" fill="#222" stroke="#222" stroke-width="0.25" textLength="46.25" lengthAdjust="spacingAndGlyphs">CLOSET</text>
<line x1="1101.25" y1="615.6" x2="1101.25" y2="640" stroke="#000" stroke-width="2.2"/>
<path d="M1075.6 640 A24.4 24.4 0 0 1 1100 615.6" fill="none" stroke="#000" stroke-width="1.3"/>
<rect x="1100" y="635" width="12.5" height="5" fill="#000"/>
<path d="M969 641.25 A25 25 0 0 0 944.4 666.25" fill="none" stroke="#000" stroke-width="1.3"/>
<line x1="944.4" y1="666.3" x2="959.4" y2="666.3" stroke="#444" stroke-width="2"/>
<rect x="959.4" y="665.2" width="9.6" height="14.2" fill="#000"/>
<rect x="813.3" y="679.2" width="33.7" height="3.8" fill="#000"/>
<rect x="803.3" y="669.2" width="165.9" height="10.0" fill="#000"/>
<rect x="813.3" y="679.2" width="92.5" height="51.6" fill="#c4e8fa"/>
<rect x="815" y="684.2" width="30.8" height="43.3" fill="none" stroke="#7a9aa8" stroke-width="0.6"/>
<line x1="815" y1="684.2" x2="845.8" y2="727.5" stroke="#7a9aa8" stroke-width="0.5"/>
<line x1="845.8" y1="684.2" x2="815" y2="727.5" stroke="#7a9aa8" stroke-width="0.5"/>
<circle cx="830.8" cy="706.7" r="1.8" fill="#fff" stroke="#7a9aa8" stroke-width="0.5"/>
<rect x="852.5" y="680" width="16.7" height="4.2" fill="none" stroke="#7a9aa8" stroke-width="0.5"/>
<ellipse cx="860" cy="695" rx="7.5" ry="10" fill="none" stroke="#7a9aa8" stroke-width="0.6"/>
<rect x="873.3" y="680" width="32.5" height="18.3" fill="none" stroke="#7a9aa8" stroke-width="0.5"/>
<ellipse cx="889.5" cy="689.2" rx="10.8" ry="7.5" fill="none" stroke="#6a8a9a" stroke-width="1.4"/>
<text x="865.8" y="714.2" font-size="6.5" text-anchor="middle" fill="#222" stroke="#222" stroke-width="0.12" textLength="12.3" lengthAdjust="spacingAndGlyphs">ENS</text>
<text x="865.8" y="724.2" font-size="6.5" text-anchor="middle" fill="#222" stroke="#222" stroke-width="0.12" textLength="31.7" lengthAdjust="spacingAndGlyphs">9’0” x 5’2”</text>
<rect x="905.8" y="679.2" width="6.7" height="57.5" fill="#000"/>
<rect x="813.3" y="730.8" width="64.2" height="5.9" fill="#000"/>
<rect x="901.7" y="730.8" width="31.6" height="5.9" fill="#000"/>
<line x1="902" y1="711.7" x2="902" y2="736.7" stroke="#000" stroke-width="2.2"/>
<path d="M877.5 736.7 A24.2 24.2 0 0 1 900.8 711.7" fill="none" stroke="#000" stroke-width="1.3"/>
<rect x="912.5" y="679.2" width="19.2" height="51.6" fill="#fff" stroke="#777" stroke-width="0.6"/>
<text x="928.3" y="705" font-size="12" text-anchor="middle" fill="#222" stroke="#222" stroke-width="0.21" textLength="37.5" lengthAdjust="spacingAndGlyphs" transform="rotate(-90 928.3 705)">CLOSET</text>
<path d="M933.3 736 A23.5 23.5 0 0 0 956.7 755" fill="none" stroke="#000" stroke-width="1.3"/>
<line x1="958.3" y1="736" x2="958.3" y2="755" stroke="#000" stroke-width="2.2"/>
<rect x="962.5" y="720.8" width="6.7" height="119.2" fill="#000"/>
<rect x="957.5" y="730.6" width="5.6" height="6.3" fill="#000"/>
<rect x="957.5" y="736.9" width="2.5" height="18.1" fill="#000"/>
<rect x="995.6" y="674.4" width="45.9" height="74.6" fill="#fff" stroke="#666" stroke-width="0.8"/>
<rect x="1002.25" y="680" width="34.0" height="118.75" fill="none" stroke="#666" stroke-width="0.8"/>
<line x1="1002.25" y1="686.25" x2="1036.25" y2="686.25" stroke="#555" stroke-width="0.8"/>
<line x1="1002.25" y1="696.45" x2="1036.25" y2="696.45" stroke="#555" stroke-width="0.8"/>
<line x1="1002.25" y1="706.65" x2="1036.25" y2="706.65" stroke="#555" stroke-width="0.8"/>
<line x1="1002.25" y1="716.85" x2="1036.25" y2="716.85" stroke="#555" stroke-width="0.8"/>
<line x1="1002.25" y1="727.05" x2="1036.25" y2="727.05" stroke="#555" stroke-width="0.8"/>
<line x1="1002.25" y1="737.25" x2="1036.25" y2="737.25" stroke="#555" stroke-width="0.8"/>
<line x1="1002.25" y1="747.45" x2="1036.25" y2="747.45" stroke="#555" stroke-width="0.8"/>
<line x1="1002.25" y1="757.65" x2="1036.25" y2="757.65" stroke="#555" stroke-width="0.8"/>
<line x1="1002.25" y1="767.85" x2="1036.25" y2="767.85" stroke="#555" stroke-width="0.8"/>
<line x1="1002.25" y1="778.05" x2="1036.25" y2="778.05" stroke="#555" stroke-width="0.8"/>
<line x1="1002.25" y1="788.25" x2="1036.25" y2="788.25" stroke="#555" stroke-width="0.8"/>
<line x1="1002.25" y1="798.45" x2="1036.25" y2="798.45" stroke="#555" stroke-width="0.8"/>
<line x1="1020" y1="690" x2="1020" y2="812.25" stroke="#555" stroke-width="0.8"/>
<path d="M1020 686.5 L1018.2 691.5 L1021.8 691.5 Z" fill="#000" stroke="#000" stroke-width="0.3"/>
<line x1="993.75" y1="708.75" x2="993.75" y2="731.9" stroke="#000" stroke-width="2.2"/>
<path d="M969 731.9 A23.5 23.5 0 0 1 992.5 708.75" fill="none" stroke="#000" stroke-width="1.3"/>
<line x1="969" y1="737.5" x2="996.9" y2="737.5" stroke="#555" stroke-width="0.8"/>
<line x1="969" y1="747.5" x2="996.9" y2="747.5" stroke="#555" stroke-width="0.8"/>
<line x1="969" y1="757.5" x2="996.9" y2="757.5" stroke="#555" stroke-width="0.8"/>
<line x1="969" y1="767.75" x2="996.9" y2="767.75" stroke="#555" stroke-width="0.8"/>
<line x1="969" y1="778.1" x2="996.9" y2="778.1" stroke="#555" stroke-width="0.8"/>
<line x1="969" y1="788.4" x2="996.9" y2="788.4" stroke="#555" stroke-width="0.8"/>
<line x1="983.1" y1="733" x2="983.1" y2="812.25" stroke="#555" stroke-width="0.8"/>
<rect x="996.9" y="733" width="5.6" height="65.75" fill="none" stroke="#666" stroke-width="0.8"/>
<rect x="983.1" y="798.75" width="36.9" height="13.5" fill="none" stroke="#666" stroke-width="0.8"/>
<line x1="999.6" y1="798.75" x2="999.6" y2="822.5" stroke="#555" stroke-width="0.8"/>
<rect x="969" y="822.5" width="67.25" height="6.25" fill="#000"/>
<line x1="963.1" y1="865.6" x2="987.5" y2="865.6" stroke="#000" stroke-width="2.2"/>
<path d="M969 840 A24.4 24.4 0 0 1 987.5 864.4" fill="none" stroke="#000" stroke-width="1.3"/>
<rect x="963.1" y="864.4" width="5.9" height="8.1" fill="#000"/>
<text x="1006.25" y="852.5" font-size="14" text-anchor="middle" fill="#222" stroke="#222" stroke-width="0.25" textLength="23.75" lengthAdjust="spacingAndGlyphs">WIC</text>
<rect x="803.3" y="872.5" width="239.2" height="10.0" fill="#000"/>
<rect x="823.75" y="870.6" width="25.65" height="13.15" fill="#fff" stroke="#777" stroke-width="0.8"/>
<line x1="823.75" y1="877.175" x2="849.4" y2="877.175" stroke="#777" stroke-width="0.8"/>
<text x="890" y="803.3" font-size="14" text-anchor="middle" fill="#222" stroke="#222" stroke-width="0.25" textLength="62.5" lengthAdjust="spacingAndGlyphs">BEDROOM</text>
<text x="890" y="820.8" font-size="14" text-anchor="middle" fill="#222" stroke="#222" stroke-width="0.25" textLength="73.3" lengthAdjust="spacingAndGlyphs">14’5” x 13’4”</text>
<text x="863.3" y="903.1" font-size="16.3" text-anchor="middle" fill="#222" stroke="#222" stroke-width="0.29" textLength="124.6" lengthAdjust="spacingAndGlyphs">SECOND FLOOR</text>
<rect x="1036.25" y="749" width="6.25" height="205.2" fill="#000"/>
<rect x="1032.5" y="872.5" width="10.0" height="81.7" fill="#000"/>
<rect x="1036.25" y="748.75" width="37.5" height="6.25" fill="#000"/>
<rect x="1042.5" y="755" width="30.8" height="31.9" fill="#fff" stroke="#777" stroke-width="0.6"/>
<text x="1059.4" y="776.25" font-size="13" text-anchor="middle" fill="#222" stroke="#222" stroke-width="0.23" textLength="14.4" lengthAdjust="spacingAndGlyphs">CL</text>
<rect x="1042.5" y="786.9" width="36.25" height="6.2" fill="#000"/>
<rect x="1042.5" y="793.1" width="65.0" height="151.1" fill="#c4e8fa"/>
<rect x="1078.75" y="786.9" width="24.25" height="6.2" fill="#c4e8fa"/>
<rect x="1042.5" y="891.25" width="13.1" height="52.95" fill="#000"/>
<line x1="1103.75" y1="786.9" x2="1103.75" y2="811.25" stroke="#000" stroke-width="2.2"/>
<path d="M1078.75 787 A24 24 0 0 0 1102.5 811.25" fill="none" stroke="#000" stroke-width="1.3"/>
<rect x="1103.1" y="786.9" width="17.5" height="6.2" fill="#000"/>
<rect x="1108.1" y="793.1" width="6.3" height="161.1" fill="#000"/>
<rect x="1117.5" y="793.1" width="3.1" height="18.15" fill="#000"/>
<path d="M1120.6 811.25 A24.4 24.4 0 0 0 1145 787" fill="none" stroke="#000" stroke-width="1.3"/>
<rect x="1145" y="786.7" width="105.8" height="5.8" fill="#000"/>
<rect x="1148.1" y="792.5" width="6.9" height="25.0" fill="#000"/>
<line x1="1155" y1="817.5" x2="1244.2" y2="817.5" stroke="#777" stroke-width="0.7"/>
<text x="1198.3" y="808.7" font-size="14" text-anchor="middle" fill="#222" stroke="#222" stroke-width="0.25" textLength="45.8" lengthAdjust="spacingAndGlyphs">CLOSET</text>
<rect x="1042.5" y="793.1" width="19.4" height="71.9" fill="none" stroke="#7a9aa8" stroke-width="0.6"/>
<ellipse cx="1053.1" cy="806.9" rx="7.2" ry="10.6" fill="none" stroke="#6a8a9a" stroke-width="1.4"/>
<ellipse cx="1053.1" cy="849.4" rx="7.2" ry="10.6" fill="none" stroke="#6a8a9a" stroke-width="1.4"/>
<rect x="1042.5" y="870" width="5.0" height="16.25" fill="none" stroke="#7a9aa8" stroke-width="0.6"/>
<ellipse cx="1059.4" cy="878.75" rx="10" ry="7.5" fill="none" stroke="#7a9aa8" stroke-width="0.7"/>
<line x1="1055.6" y1="897.75" x2="1107.5" y2="897.75" stroke="#7a9aa8" stroke-width="0.6"/>
<ellipse cx="1080.8" cy="921.7" rx="22.5" ry="10.8" fill="none" stroke="#7a9aa8" stroke-width="0.7"/>
<text x="1084.4" y="853.1" font-size="14" text-anchor="middle" fill="#222" stroke="#222" stroke-width="0.25" textLength="31.25" lengthAdjust="spacingAndGlyphs" transform="rotate(-90 1084.4 853.1)">BATH</text>
<text x="1100.6" y="853.4" font-size="14" text-anchor="middle" fill="#222" stroke="#222" stroke-width="0.25" textLength="70.6" lengthAdjust="spacingAndGlyphs" transform="rotate(-90 1100.6 853.4)">6’2” x 14’10”</text>
<rect x="1244.2" y="792.5" width="6.6" height="161.7" fill="#000"/>
<line x1="1250.8" y1="786.9" x2="1323.7" y2="786.9" stroke="#555" stroke-width="0.8"/>
<line x1="1250.8" y1="792.5" x2="1323.7" y2="792.5" stroke="#555" stroke-width="0.8"/>
<text x="1202.5" y="711.7" font-size="14" text-anchor="middle" fill="#222" stroke="#222" stroke-width="0.25" textLength="87.7" lengthAdjust="spacingAndGlyphs">FAMILY ROOM</text>
<text x="1202.5" y="729.2" font-size="14" text-anchor="middle" fill="#222" stroke="#222" stroke-width="0.25" textLength="72" lengthAdjust="spacingAndGlyphs">27’6” x 14’6”</text>
<text x="1178.3" y="870.8" font-size="14" text-anchor="middle" fill="#222" stroke="#222" stroke-width="0.25" textLength="62.5" lengthAdjust="spacingAndGlyphs">BEDROOM</text>
<text x="1178.3" y="888.3" font-size="14" text-anchor="middle" fill="#222" stroke="#222" stroke-width="0.25" textLength="79.2" lengthAdjust="spacingAndGlyphs">12’9” x 14’10”</text>
<text x="1288.3" y="870.8" font-size="14" text-anchor="middle" fill="#222" stroke="#222" stroke-width="0.25" textLength="53.3" lengthAdjust="spacingAndGlyphs">OPEN TO</text>
<text x="1288.3" y="888.3" font-size="14" text-anchor="middle" fill="#222" stroke="#222" stroke-width="0.25" textLength="43.3" lengthAdjust="spacingAndGlyphs">BELOW</text>
<rect x="1032.5" y="944.2" width="32.5" height="10.0" fill="#000"/>
<rect x="1065" y="943" width="32" height="12.5" fill="#fff" stroke="#777" stroke-width="0.8"/>
<line x1="1065" y1="949.25" x2="1097" y2="949.25" stroke="#777" stroke-width="0.8"/>
<rect x="1097" y="944.2" width="30.5" height="10.0" fill="#000"/>
<rect x="1155" y="944.2" width="43.3" height="10.0" fill="#000"/>
<rect x="1198.3" y="943" width="32.0" height="12.5" fill="#fff" stroke="#777" stroke-width="0.8"/>
<line x1="1198.3" y1="949.25" x2="1230.3" y2="949.25" stroke="#777" stroke-width="0.8"/>
<rect x="1230.3" y="944.2" width="38.0" height="10.0" fill="#000"/>
<rect x="1268.3" y="943" width="35.9" height="12.5" fill="#fff" stroke="#777" stroke-width="0.8"/>
<line x1="1268.3" y1="949.25" x2="1304.2" y2="949.25" stroke="#777" stroke-width="0.8"/>
<rect x="1304.2" y="944.2" width="30.0" height="10.0" fill="#000"/>
<line x1="1126.6" y1="954.2" x2="1126.6" y2="972.5" stroke="#000" stroke-width="2.2"/>
<path d="M1128.3 972.5 A25 25 0 0 0 1155 949" fill="none" stroke="#000" stroke-width="1.3"/>
<rect x="1032" y="954.2" width="10.5" height="84.1" fill="#fff" stroke="#444" stroke-width="0.8"/>
<rect x="1244.2" y="954.2" width="10.5" height="84.1" fill="#fff" stroke="#444" stroke-width="0.8"/>
<rect x="1042.5" y="1038.3" width="94.2" height="10.4" fill="#fff" stroke="#444" stroke-width="0.8"/>
<rect x="1147.5" y="1038.3" width="95.8" height="10.4" fill="#fff" stroke="#444" stroke-width="0.8"/>
<rect x="1032" y="1038.3" width="11" height="10.4" fill="#000"/>
<rect x="1136.7" y="1038.3" width="10.8" height="10.4" fill="#000"/>
<rect x="1243.3" y="1038.3" width="11.4" height="10.4" fill="#000"/>
<text x="1150" y="1005.3" font-size="14" text-anchor="middle" fill="#222" stroke="#222" stroke-width="0.25" textLength="58.3" lengthAdjust="spacingAndGlyphs">BALCONY</text>
<text x="69.4" y="1082.5" font-size="16.3" text-anchor="start" fill="#222" stroke="#222" stroke-width="0.29" textLength="100" lengthAdjust="spacingAndGlyphs">FIRST FLOOR</text>
<path d="M1543 425.1 Q1586.6 438 1629.5 425.1 L1678.2 535.9 L1724.2 643.3 L1839.8 910.5 L1284.3 1171.2 L1503.5 525.9 Z" fill="#8dc63f" stroke="#3d5a2a" stroke-width="0.8"/>
<path d="M1503.5 525.9 L1678.2 535.9" stroke="#3d5a2a" stroke-width="0.8" fill="none"/>
<path d="M1512.7 527.9 L1678.2 535.9 L1724.2 643.3 L1724.2 841 L1490 841 L1490 655 Z" fill="#fff" stroke="#555" stroke-width="0.6"/>
<path d="M1570 838.3 L1706.7 838.3 L1675 910 L1656.7 936.7 L1645 956.7 L1642 978.3 L1644.2 1002.5 L1586.7 1030 L1580.8 983.3 C1578 970 1570 958 1556.7 957.5 L1545 956.7 L1545 940 L1570 940 Z" fill="#fff" stroke="none"/>
<path d="M1706.7 838.3 L1675 910 C1662 930 1645 950 1642 978.3 L1644.2 1002.5 M1586.7 1030 L1580.8 983.3 C1578 970 1570 958 1556.7 957.5 L1545 956.7 L1545 942" fill="none" stroke="#3d5a2a" stroke-width="0.6"/>
<path d="M1586.7 1030 L1644.2 1002.5" stroke="#555" stroke-width="0.7"/>
<path d="M1490.8 655.8 L1655 655.8 L1655 642 L1706.3 642 L1706.3 836.7 L1655 836.7 L1655 813.3 L1585 813.3 L1585 806.7 L1564.2 806.7 L1564.2 823.3 L1541.7 823.3 L1541.7 835.8 L1490.8 835.8 Z" fill="#e2c6af" stroke="#000" stroke-width="3.3"/>
<path d="M1490.8 835.8 L1541.7 835.8 L1541.7 825 L1573.3 825 L1573.3 942.5 L1490.8 942.5 Z" fill="#e2c6af" stroke="#000" stroke-width="3.3"/>
<path d="M1566 808.4 L1583.3 808.4 L1583.3 815 L1653.3 815 L1653.3 836 L1576 836 L1576 823.3 L1566 823.3 Z" fill="#fff"/>
<line x1="1576" y1="838.3" x2="1706.7" y2="838.3" stroke="#555" stroke-width="0.6"/>
<rect x="1573.3" y="833.3" width="5.9" height="5.0" fill="#000"/>
<rect x="1610" y="833.3" width="5" height="5.0" fill="#000"/>
<rect x="1648.3" y="833.3" width="5.9" height="5.0" fill="#000"/>
<rect x="1570.8" y="841.7" width="6.7" height="44.1" fill="#fff" stroke="#555" stroke-width="0.6"/>
<rect x="1571.7" y="886" width="3.3" height="6.5" fill="#000"/>
<rect x="1570.8" y="892.5" width="6.7" height="45.0" fill="#fff" stroke="#555" stroke-width="0.6"/>
<text x="1615.8" y="828.3" font-size="12.6" text-anchor="middle" fill="#222" stroke="#222" stroke-width="0.23" textLength="39.5" lengthAdjust="spacingAndGlyphs">PORCH</text>
<text x="1598.75" y="748.3" font-size="33" text-anchor="middle" fill="#111" stroke="#111" stroke-width="0.59" textLength="169" lengthAdjust="spacingAndGlyphs">RESIDENCE</text>
<text x="1532" y="899.2" font-size="18.3" text-anchor="middle" fill="#222" stroke="#222" stroke-width="0.33" textLength="67.5" lengthAdjust="spacingAndGlyphs">GARAGE</text>
<text x="1623" y="908.3" font-size="17" text-anchor="middle" fill="#222" stroke="#222" stroke-width="0.30" textLength="82.5" lengthAdjust="spacingAndGlyphs">DRIVEWAY</text>
<rect x="1587.3" y="551.5" width="52.5" height="71" fill="#c4e8fa" stroke="#6f8fa0" stroke-width="0.7"/>
<rect x="1559.5" y="594.2" width="27.8" height="28.3" fill="#c4e8fa" stroke="#6f8fa0" stroke-width="0.7"/>
<text x="1610" y="584" font-size="7" text-anchor="middle" fill="#222" stroke="#222" stroke-width="0.12" textLength="15.5" lengthAdjust="spacingAndGlyphs">POOL</text>
<text x="1573.3" y="610" font-size="8" text-anchor="middle" fill="#222" stroke="#222" stroke-width="0.14" textLength="12" lengthAdjust="spacingAndGlyphs">SPA</text>
<path d="M1507.3 559.4 L1534.4 562.9 L1532.7 573.5 L1515 571.5 L1508.3 607.5 L1537.3 611 L1536 624.4 L1495.8 619.2 Z" fill="#c4e8fa" stroke="#6f8fa0" stroke-width="0.7"/>
<rect x="1504.6" y="576.5" width="6.9" height="7.7" fill="none" stroke="#3e5866" stroke-width="1.3"/>
<rect x="1502.5" y="590.4" width="6.25" height="10.0" fill="none" stroke="#3e5866" stroke-width="0.9"/>
<line x1="1502.5" y1="595.4" x2="1508.75" y2="595.4" stroke="#3e5866" stroke-width="0.6"/>
<text x="1524" y="598.5" font-size="6.6" text-anchor="middle" fill="#333" stroke="#333" stroke-width="0.12" textLength="11.7" lengthAdjust="spacingAndGlyphs">BAR</text>
<text x="1599.7" y="634.5" font-size="6.5" text-anchor="middle" fill="#333" stroke="#333" stroke-width="0.12" textLength="33.3" lengthAdjust="spacingAndGlyphs">POOL AREA</text>
<rect x="1532.7" y="616" width="3.8" height="3.6" fill="#000"/>
<rect x="1532.7" y="636.5" width="3.8" height="3.5" fill="#000"/>
<path d="M1493.75 627.7 L1507.3 630.2" fill="none" stroke="#000" stroke-width="1.8"/>
<path d="M1507.3 630.8 A 16.5 12 0 0 1 1490.8 642.1" fill="none" stroke="#333" stroke-width="0.8"/>
<circle cx="1736.3" cy="715.5" r="12.3" fill="#22a24a" stroke="#0e5e2a" stroke-width="1.1"/>
<line x1="1736.3" y1="715.5" x2="1747.5" y2="719.0" stroke="#147a35" stroke-width="0.6"/>
<line x1="1736.3" y1="715.5" x2="1744.9" y2="723.5" stroke="#147a35" stroke-width="0.6"/>
<line x1="1736.3" y1="715.5" x2="1740.6" y2="726.4" stroke="#147a35" stroke-width="0.6"/>
<line x1="1736.3" y1="715.5" x2="1735.4" y2="727.2" stroke="#147a35" stroke-width="0.6"/>
<line x1="1736.3" y1="715.5" x2="1730.4" y2="725.6" stroke="#147a35" stroke-width="0.6"/>
<line x1="1736.3" y1="715.5" x2="1726.6" y2="722.1" stroke="#147a35" stroke-width="0.6"/>
<line x1="1736.3" y1="715.5" x2="1724.7" y2="717.2" stroke="#147a35" stroke-width="0.6"/>
<line x1="1736.3" y1="715.5" x2="1725.1" y2="712.0" stroke="#147a35" stroke-width="0.6"/>
<line x1="1736.3" y1="715.5" x2="1727.7" y2="707.5" stroke="#147a35" stroke-width="0.6"/>
<line x1="1736.3" y1="715.5" x2="1732.0" y2="704.6" stroke="#147a35" stroke-width="0.6"/>
<line x1="1736.3" y1="715.5" x2="1737.2" y2="703.8" stroke="#147a35" stroke-width="0.6"/>
<line x1="1736.3" y1="715.5" x2="1742.2" y2="705.4" stroke="#147a35" stroke-width="0.6"/>
<line x1="1736.3" y1="715.5" x2="1746.0" y2="708.9" stroke="#147a35" stroke-width="0.6"/>
<line x1="1736.3" y1="715.5" x2="1747.9" y2="713.8" stroke="#147a35" stroke-width="0.6"/>
<circle cx="1750.5" cy="773" r="12.3" fill="#22a24a" stroke="#0e5e2a" stroke-width="1.1"/>
<line x1="1750.5" y1="773" x2="1761.7" y2="776.5" stroke="#147a35" stroke-width="0.6"/>
<line x1="1750.5" y1="773" x2="1759.1" y2="781.0" stroke="#147a35" stroke-width="0.6"/>
<line x1="1750.5" y1="773" x2="1754.8" y2="783.9" stroke="#147a35" stroke-width="0.6"/>
<line x1="1750.5" y1="773" x2="1749.6" y2="784.7" stroke="#147a35" stroke-width="0.6"/>
<line x1="1750.5" y1="773" x2="1744.6" y2="783.1" stroke="#147a35" stroke-width="0.6"/>
<line x1="1750.5" y1="773" x2="1740.8" y2="779.6" stroke="#147a35" stroke-width="0.6"/>
<line x1="1750.5" y1="773" x2="1738.9" y2="774.7" stroke="#147a35" stroke-width="0.6"/>
<line x1="1750.5" y1="773" x2="1739.3" y2="769.5" stroke="#147a35" stroke-width="0.6"/>
<line x1="1750.5" y1="773" x2="1741.9" y2="765.0" stroke="#147a35" stroke-width="0.6"/>
<line x1="1750.5" y1="773" x2="1746.2" y2="762.1" stroke="#147a35" stroke-width="0.6"/>
<line x1="1750.5" y1="773" x2="1751.4" y2="761.3" stroke="#147a35" stroke-width="0.6"/>
<line x1="1750.5" y1="773" x2="1756.4" y2="762.9" stroke="#147a35" stroke-width="0.6"/>
<line x1="1750.5" y1="773" x2="1760.2" y2="766.4" stroke="#147a35" stroke-width="0.6"/>
<line x1="1750.5" y1="773" x2="1762.1" y2="771.3" stroke="#147a35" stroke-width="0.6"/>
<circle cx="1770.5" cy="826.1" r="12.3" fill="#22a24a" stroke="#0e5e2a" stroke-width="1.1"/>
<line x1="1770.5" y1="826.1" x2="1781.7" y2="829.6" stroke="#147a35" stroke-width="0.6"/>
<line x1="1770.5" y1="826.1" x2="1779.1" y2="834.1" stroke="#147a35" stroke-width="0.6"/>
<line x1="1770.5" y1="826.1" x2="1774.8" y2="837.0" stroke="#147a35" stroke-width="0.6"/>
<line x1="1770.5" y1="826.1" x2="1769.6" y2="837.8" stroke="#147a35" stroke-width="0.6"/>
<line x1="1770.5" y1="826.1" x2="1764.6" y2="836.2" stroke="#147a35" stroke-width="0.6"/>
<line x1="1770.5" y1="826.1" x2="1760.8" y2="832.7" stroke="#147a35" stroke-width="0.6"/>
<line x1="1770.5" y1="826.1" x2="1758.9" y2="827.8" stroke="#147a35" stroke-width="0.6"/>
<line x1="1770.5" y1="826.1" x2="1759.3" y2="822.6" stroke="#147a35" stroke-width="0.6"/>
<line x1="1770.5" y1="826.1" x2="1761.9" y2="818.1" stroke="#147a35" stroke-width="0.6"/>
<line x1="1770.5" y1="826.1" x2="1766.2" y2="815.2" stroke="#147a35" stroke-width="0.6"/>
<line x1="1770.5" y1="826.1" x2="1771.4" y2="814.4" stroke="#147a35" stroke-width="0.6"/>
<line x1="1770.5" y1="826.1" x2="1776.4" y2="816.0" stroke="#147a35" stroke-width="0.6"/>
<line x1="1770.5" y1="826.1" x2="1780.2" y2="819.5" stroke="#147a35" stroke-width="0.6"/>
<line x1="1770.5" y1="826.1" x2="1782.1" y2="824.4" stroke="#147a35" stroke-width="0.6"/>
<circle cx="1748.4" cy="882.8" r="12.3" fill="#22a24a" stroke="#0e5e2a" stroke-width="1.1"/>
<line x1="1748.4" y1="882.8" x2="1759.6" y2="886.3" stroke="#147a35" stroke-width="0.6"/>
<line x1="1748.4" y1="882.8" x2="1757.0" y2="890.8" stroke="#147a35" stroke-width="0.6"/>
<line x1="1748.4" y1="882.8" x2="1752.7" y2="893.7" stroke="#147a35" stroke-width="0.6"/>
<line x1="1748.4" y1="882.8" x2="1747.5" y2="894.5" stroke="#147a35" stroke-width="0.6"/>
<line x1="1748.4" y1="882.8" x2="1742.5" y2="892.9" stroke="#147a35" stroke-width="0.6"/>
<line x1="1748.4" y1="882.8" x2="1738.7" y2="889.4" stroke="#147a35" stroke-width="0.6"/>
<line x1="1748.4" y1="882.8" x2="1736.8" y2="884.5" stroke="#147a35" stroke-width="0.6"/>
<line x1="1748.4" y1="882.8" x2="1737.2" y2="879.3" stroke="#147a35" stroke-width="0.6"/>
<line x1="1748.4" y1="882.8" x2="1739.8" y2="874.8" stroke="#147a35" stroke-width="0.6"/>
<line x1="1748.4" y1="882.8" x2="1744.1" y2="871.9" stroke="#147a35" stroke-width="0.6"/>
<line x1="1748.4" y1="882.8" x2="1749.3" y2="871.1" stroke="#147a35" stroke-width="0.6"/>
<line x1="1748.4" y1="882.8" x2="1754.3" y2="872.7" stroke="#147a35" stroke-width="0.6"/>
<line x1="1748.4" y1="882.8" x2="1758.1" y2="876.2" stroke="#147a35" stroke-width="0.6"/>
<line x1="1748.4" y1="882.8" x2="1760.0" y2="881.1" stroke="#147a35" stroke-width="0.6"/>
<circle cx="1698.3" cy="921.7" r="12.3" fill="#22a24a" stroke="#0e5e2a" stroke-width="1.1"/>
<line x1="1698.3" y1="921.7" x2="1709.5" y2="925.2" stroke="#147a35" stroke-width="0.6"/>
<line x1="1698.3" y1="921.7" x2="1706.9" y2="929.7" stroke="#147a35" stroke-width="0.6"/>
<line x1="1698.3" y1="921.7" x2="1702.6" y2="932.6" stroke="#147a35" stroke-width="0.6"/>
<line x1="1698.3" y1="921.7" x2="1697.4" y2="933.4" stroke="#147a35" stroke-width="0.6"/>
<line x1="1698.3" y1="921.7" x2="1692.4" y2="931.8" stroke="#147a35" stroke-width="0.6"/>
<line x1="1698.3" y1="921.7" x2="1688.6" y2="928.3" stroke="#147a35" stroke-width="0.6"/>
<line x1="1698.3" y1="921.7" x2="1686.7" y2="923.4" stroke="#147a35" stroke-width="0.6"/>
<line x1="1698.3" y1="921.7" x2="1687.1" y2="918.2" stroke="#147a35" stroke-width="0.6"/>
<line x1="1698.3" y1="921.7" x2="1689.7" y2="913.7" stroke="#147a35" stroke-width="0.6"/>
<line x1="1698.3" y1="921.7" x2="1694.0" y2="910.8" stroke="#147a35" stroke-width="0.6"/>
<line x1="1698.3" y1="921.7" x2="1699.2" y2="910.0" stroke="#147a35" stroke-width="0.6"/>
<line x1="1698.3" y1="921.7" x2="1704.2" y2="911.6" stroke="#147a35" stroke-width="0.6"/>
<line x1="1698.3" y1="921.7" x2="1708.0" y2="915.1" stroke="#147a35" stroke-width="0.6"/>
<line x1="1698.3" y1="921.7" x2="1709.9" y2="920.0" stroke="#147a35" stroke-width="0.6"/>
<circle cx="1468.3" cy="967.8" r="12.3" fill="#22a24a" stroke="#0e5e2a" stroke-width="1.1"/>
<line x1="1468.3" y1="967.8" x2="1479.5" y2="971.3" stroke="#147a35" stroke-width="0.6"/>
<line x1="1468.3" y1="967.8" x2="1476.9" y2="975.8" stroke="#147a35" stroke-width="0.6"/>
<line x1="1468.3" y1="967.8" x2="1472.6" y2="978.7" stroke="#147a35" stroke-width="0.6"/>
<line x1="1468.3" y1="967.8" x2="1467.4" y2="979.5" stroke="#147a35" stroke-width="0.6"/>
<line x1="1468.3" y1="967.8" x2="1462.4" y2="977.9" stroke="#147a35" stroke-width="0.6"/>
<line x1="1468.3" y1="967.8" x2="1458.6" y2="974.4" stroke="#147a35" stroke-width="0.6"/>
<line x1="1468.3" y1="967.8" x2="1456.7" y2="969.5" stroke="#147a35" stroke-width="0.6"/>
<line x1="1468.3" y1="967.8" x2="1457.1" y2="964.3" stroke="#147a35" stroke-width="0.6"/>
<line x1="1468.3" y1="967.8" x2="1459.7" y2="959.8" stroke="#147a35" stroke-width="0.6"/>
<line x1="1468.3" y1="967.8" x2="1464.0" y2="956.9" stroke="#147a35" stroke-width="0.6"/>
<line x1="1468.3" y1="967.8" x2="1469.2" y2="956.1" stroke="#147a35" stroke-width="0.6"/>
<line x1="1468.3" y1="967.8" x2="1474.2" y2="957.7" stroke="#147a35" stroke-width="0.6"/>
<line x1="1468.3" y1="967.8" x2="1478.0" y2="961.2" stroke="#147a35" stroke-width="0.6"/>
<line x1="1468.3" y1="967.8" x2="1479.9" y2="966.1" stroke="#147a35" stroke-width="0.6"/>
<circle cx="1520.5" cy="976.7" r="12.3" fill="#22a24a" stroke="#0e5e2a" stroke-width="1.1"/>
<line x1="1520.5" y1="976.7" x2="1531.7" y2="980.2" stroke="#147a35" stroke-width="0.6"/>
<line x1="1520.5" y1="976.7" x2="1529.1" y2="984.7" stroke="#147a35" stroke-width="0.6"/>
<line x1="1520.5" y1="976.7" x2="1524.8" y2="987.6" stroke="#147a35" stroke-width="0.6"/>
<line x1="1520.5" y1="976.7" x2="1519.6" y2="988.4" stroke="#147a35" stroke-width="0.6"/>
<line x1="1520.5" y1="976.7" x2="1514.6" y2="986.8" stroke="#147a35" stroke-width="0.6"/>
<line x1="1520.5" y1="976.7" x2="1510.8" y2="983.3" stroke="#147a35" stroke-width="0.6"/>
<line x1="1520.5" y1="976.7" x2="1508.9" y2="978.4" stroke="#147a35" stroke-width="0.6"/>
<line x1="1520.5" y1="976.7" x2="1509.3" y2="973.2" stroke="#147a35" stroke-width="0.6"/>
<line x1="1520.5" y1="976.7" x2="1511.9" y2="968.7" stroke="#147a35" stroke-width="0.6"/>
<line x1="1520.5" y1="976.7" x2="1516.2" y2="965.8" stroke="#147a35" stroke-width="0.6"/>
<line x1="1520.5" y1="976.7" x2="1521.4" y2="965.0" stroke="#147a35" stroke-width="0.6"/>
<line x1="1520.5" y1="976.7" x2="1526.4" y2="966.6" stroke="#147a35" stroke-width="0.6"/>
<line x1="1520.5" y1="976.7" x2="1530.2" y2="970.1" stroke="#147a35" stroke-width="0.6"/>
<line x1="1520.5" y1="976.7" x2="1532.1" y2="975.0" stroke="#147a35" stroke-width="0.6"/>
<circle cx="1497.2" cy="1020.5" r="12.3" fill="#22a24a" stroke="#0e5e2a" stroke-width="1.1"/>
<line x1="1497.2" y1="1020.5" x2="1508.4" y2="1024.0" stroke="#147a35" stroke-width="0.6"/>
<line x1="1497.2" y1="1020.5" x2="1505.8" y2="1028.5" stroke="#147a35" stroke-width="0.6"/>
<line x1="1497.2" y1="1020.5" x2="1501.5" y2="1031.4" stroke="#147a35" stroke-width="0.6"/>
<line x1="1497.2" y1="1020.5" x2="1496.3" y2="1032.2" stroke="#147a35" stroke-width="0.6"/>
<line x1="1497.2" y1="1020.5" x2="1491.3" y2="1030.6" stroke="#147a35" stroke-width="0.6"/>
<line x1="1497.2" y1="1020.5" x2="1487.5" y2="1027.1" stroke="#147a35" stroke-width="0.6"/>
<line x1="1497.2" y1="1020.5" x2="1485.6" y2="1022.2" stroke="#147a35" stroke-width="0.6"/>
<line x1="1497.2" y1="1020.5" x2="1486.0" y2="1017.0" stroke="#147a35" stroke-width="0.6"/>
<line x1="1497.2" y1="1020.5" x2="1488.6" y2="1012.5" stroke="#147a35" stroke-width="0.6"/>
<line x1="1497.2" y1="1020.5" x2="1492.9" y2="1009.6" stroke="#147a35" stroke-width="0.6"/>
<line x1="1497.2" y1="1020.5" x2="1498.1" y2="1008.8" stroke="#147a35" stroke-width="0.6"/>
<line x1="1497.2" y1="1020.5" x2="1503.1" y2="1010.4" stroke="#147a35" stroke-width="0.6"/>
<line x1="1497.2" y1="1020.5" x2="1506.9" y2="1013.9" stroke="#147a35" stroke-width="0.6"/>
<line x1="1497.2" y1="1020.5" x2="1508.8" y2="1018.8" stroke="#147a35" stroke-width="0.6"/>
<text x="1766.3" y="154.9" font-size="13.7" text-anchor="middle" fill="#111" stroke="#111" stroke-width="0.24" textLength="9.2" lengthAdjust="spacingAndGlyphs">N</text>
<circle cx="1812.5" cy="145.4" r="12.6" fill="none" stroke="#000" stroke-width="1.5"/>
<line x1="1809.3" y1="113.6" x2="1815" y2="177.2" stroke="#000" stroke-width="1.9"/>
<line x1="1799.9" y1="146.8" x2="1844" y2="142.5" stroke="#000" stroke-width="1.9"/>
<path d="M1780.4 148.3 L1801.5 138.8 L1800.4 153.1 Z" fill="#000"/>
<text x="57.5" y="1309.4" font-size="20" text-anchor="start" fill="#111" stroke="#111" stroke-width="0.36" textLength="484.5" lengthAdjust="spacingAndGlyphs">602 OLD BLUFF DRIVE, PONTE VEDRA BEACH, FL, 32081</text>
<path d="M35 1408 C35 1403.5 39 1402 43 1402 C48 1402 51 1405 51 1409 C51 1416 37 1420 34.5 1431" fill="none" stroke="#3a3a3a" stroke-width="1.1"/>
<path d="M65.4 1402 C60 1402 56.8 1408 56.8 1416.5 C56.8 1425 60 1431 65.4 1431 C70.8 1431 74 1425 74 1416.5 C74 1408 70.8 1402 65.4 1402" fill="none" stroke="#3a3a3a" stroke-width="1.1"/>
<path d="M80.7 1408 C80.7 1403.5 84.7 1402 88.7 1402 C93.7 1402 96.7 1405 96.7 1409 C96.7 1416 82.7 1420 80.2 1431" fill="none" stroke="#3a3a3a" stroke-width="1.1"/>
<path d="M118 1406 C116.5 1403.3 114 1402 111 1402 C105 1402 103.2 1410 103.2 1418 C103.2 1426 106 1431 111.5 1431 C116.5 1431 119.8 1427 119.8 1422 C119.8 1416.5 116.5 1413.5 112 1413.5 C108 1413.5 105 1415.5 104 1418" fill="none" stroke="#3a3a3a" stroke-width="1.1"/>
<path d="M138 1431 L138 1402.5 L160 1431 L160 1402.5" fill="none" stroke="#3a3a3a" stroke-width="1.1"/>
<path d="M173.5 1402.5 L173.5 1431" fill="none" stroke="#3a3a3a" stroke-width="1.1"/>
<path d="M192.5 1431 L192.5 1402.5" fill="none" stroke="#3a3a3a" stroke-width="1.1"/>
<path d="M217.3 1431 L217.3 1402.5 L231.8 1431 L246.4 1402.5 L246.4 1431" fill="none" stroke="#3a3a3a" stroke-width="1.1"/>
<path d="M252.3 1402.5 L252.3 1431" fill="none" stroke="#3a3a3a" stroke-width="1.1"/>
<path d="M294 1407 C292 1403.5 288 1402 284 1402 C278 1402 273.7 1405 273.7 1410 C273.7 1421 296 1413 296 1423 C296 1428 291 1431 284.5 1431 C278.5 1431 274.5 1428.5 272.9 1424" fill="none" stroke="#3a3a3a" stroke-width="1.1"/>
<path d="M304.5 1428.5 L304.5 1431.5 L302.5 1436" fill="none" stroke="#3a3a3a" stroke-width="1.1"/>
<path d="M325 1402.5 L325 1431" fill="none" stroke="#3a3a3a" stroke-width="1.1"/>
<path d="M339 1431 L339 1410 M339 1415 C340 1411.5 343 1410 346.5 1410 C351 1410 354 1412.5 354 1417 L354 1431" fill="none" stroke="#3a3a3a" stroke-width="1.1"/>
<path d="M374 1414 C372.5 1411 370 1410 367.5 1410 C362.5 1410 360 1414 360 1420.5 C360 1427 362.5 1431 367.5 1431 C370 1431 372.5 1430 374 1427" fill="none" stroke="#3a3a3a" stroke-width="1.1"/>
<path d="M173.5 1402.5 L189.6 1402.5 M173.5 1416.5 L188 1416.5 M173.5 1431 L189.6 1431" fill="none" stroke="#d8d8d8" stroke-width="1.1"/>
<path d="M192.5 1402.5 L208.5 1402.5 M192.5 1416.5 L206 1416.5" fill="none" stroke="#d8d8d8" stroke-width="1.1"/>
<path d="M252.3 1431 L266.9 1431" fill="none" stroke="#d8d8d8" stroke-width="1.1"/>
<path d="M36 1431 L51 1431" fill="none" stroke="#d8d8d8" stroke-width="1.1"/>
<path d="M81.7 1431 L96.7 1431" fill="none" stroke="#d8d8d8" stroke-width="1.1"/>
<circle cx="16.7" cy="1416.4" r="14.6" fill="none" stroke="#3a3a3a" stroke-width="1.1"/>
<path d="M22 1411 C20.5 1409.5 19 1409 17 1409 C12.5 1409 10.5 1412.5 10.5 1416.5 C10.5 1420.5 12.5 1424 17 1424 C19 1424 20.5 1423.5 22 1422" fill="none" stroke="#3a3a3a" stroke-width="1.1"/>
</svg></body></html>
